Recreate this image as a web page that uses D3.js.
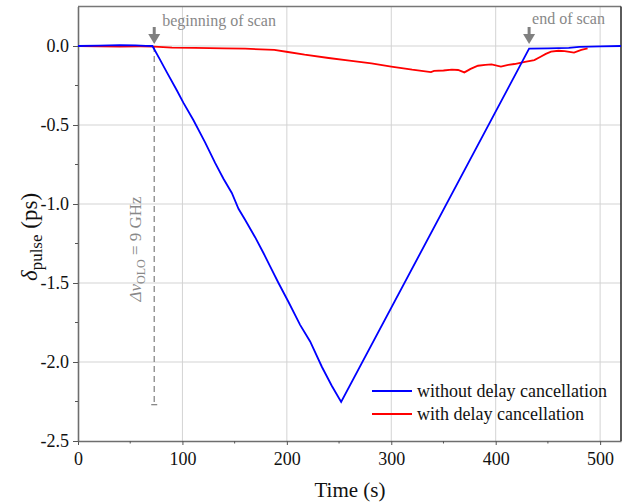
<!DOCTYPE html>
<html><head><meta charset="utf-8">
<script src="https://cdn.jsdelivr.net/npm/d3@7"></script>
<style>body{margin:0;background:#fff}svg{display:block}svg text{font-family:"Liberation Serif",serif !important}</style>
</head><body><svg id="c" width="631" height="502"></svg>
<script>
// ---- data ----
const blueT = [0,20,40,55,65,71.3,78,85,94.6,101,110.6,121.7,131.3,139.3,147.3,153.7,160,169.6,177.6,184,192,201.6,212.7,222.3,233.5,243,252,432,450,470,480,500,520];
const blueV = [0,0.002,0.006,0.004,0.001,0,-0.08,-0.165,-0.28,-0.36,-0.47,-0.61,-0.74,-0.84,-0.93,-1.03,-1.10,-1.21,-1.31,-1.395,-1.50,-1.62,-1.765,-1.87,-2.03,-2.15,-2.253,-0.017,-0.015,-0.012,-0.006,-0.002,0];
const redT = [0,20,40,60,73,90,112,140,160,188,201,217,240,260,281,300,320,338,341,350,358,364,370,376,383,390,396,405,412,418,428,437,443,448,453,460,466,475,482,488];
const redV = [0,-0.003,-0.004,-0.003,-0.004,-0.01,-0.012,-0.015,-0.017,-0.025,-0.038,-0.055,-0.076,-0.093,-0.11,-0.13,-0.15,-0.165,-0.158,-0.155,-0.150,-0.152,-0.167,-0.145,-0.125,-0.12,-0.116,-0.13,-0.12,-0.114,-0.10,-0.089,-0.068,-0.05,-0.036,-0.03,-0.032,-0.042,-0.025,-0.015];
const xTicks = [0,100,200,300,400,500];
const yTicks = [0,-0.5,-1.0,-1.5,-2.0,-2.5];
const yTickLabels = ["0.0","-0.5","-1.0","-1.5","-2.0","-2.5"];
const seriesNames = ["without delay cancellation","with delay cancellation"];
const seriesColors = ["#0000ff","#ff0000"];
const scanStart = 73, scanEnd = 432, markerBottom = -2.27;

// ---- chart ----
const FONT = '"Liberation Serif", serif';
const svg = d3.select("#c");
const x = d3.scaleLinear().domain([0,520]).range([78,621]);
const y = d3.scaleLinear().domain([-2.5,0.25]).range([441,6.5]);

// grid
svg.append("g").selectAll("line").data(xTicks.filter(d=>d>0)).join("line")
  .attr("x1",d=>x(d)).attr("x2",d=>x(d)).attr("y1",y(0.25)).attr("y2",y(-2.5))
  .attr("stroke","#d3d3d3").attr("stroke-width",1);
svg.append("g").selectAll("line").data(yTicks.filter(d=>d>-2.5)).join("line")
  .attr("x1",x(0)).attr("x2",x(520)).attr("y1",d=>y(d)).attr("y2",d=>y(d))
  .attr("stroke","#d3d3d3").attr("stroke-width",1);

// axes
const xAxis = svg.append("g").attr("transform",`translate(0,${y(-2.5)})`)
  .call(d3.axisBottom(x).tickValues(xTicks).tickFormat(d3.format("d")).tickSize(4).tickSizeOuter(0));
const yAxis = svg.append("g").attr("transform",`translate(${x(0)},0)`)
  .call(d3.axisLeft(y).tickValues(yTicks).tickFormat((d,i)=>yTickLabels[i]).tickSize(5).tickSizeOuter(0));
[xAxis,yAxis].forEach(a=>{
  a.attr("font-family",FONT).attr("font-size",18);
  a.select(".domain").attr("stroke","#6e6e6e").attr("stroke-width",1.6);
  a.selectAll(".tick line").attr("stroke","#555");
  a.selectAll(".tick text").attr("fill","#111").style("font-family",FONT).style("font-size","18px");
});
xAxis.selectAll(".tick text").attr("dy","0.95em");
yAxis.selectAll(".tick text").attr("x",-9);
// minor ticks
svg.append("g").selectAll("line").data(d3.range(50,520,100)).join("line")
  .attr("x1",d=>x(d)).attr("x2",d=>x(d)).attr("y1",y(-2.5)).attr("y2",y(-2.5)+2.5).attr("stroke","#555");
svg.append("g").selectAll("line").data(d3.range(-2.25,0.2,0.5)).join("line")
  .attr("x1",x(0)-3).attr("x2",x(0)).attr("y1",d=>y(d)).attr("y2",d=>y(d)).attr("stroke","#555");
// top & right spines
svg.append("line").attr("x1",x(0)).attr("x2",x(520)).attr("y1",y(0.25)).attr("y2",y(0.25)).attr("stroke","#777").attr("stroke-width",1.6);
svg.append("line").attr("x1",x(520)).attr("x2",x(520)).attr("y1",y(0.25)).attr("y2",y(-2.5)).attr("stroke","#333").attr("stroke-width",1.6);

// dashed marker
svg.append("line").attr("x1",x(scanStart)).attr("x2",x(scanStart)).attr("y1",y(0)).attr("y2",y(markerBottom))
  .attr("stroke","#888").attr("stroke-width",1.3).attr("stroke-dasharray","6,4");
svg.append("line").attr("x1",x(scanStart)-3).attr("x2",x(scanStart)+3).attr("y1",y(markerBottom)).attr("y2",y(markerBottom))
  .attr("stroke","#888").attr("stroke-width",1.3);

// lines
const line = d3.line().x(d=>x(d[0])).y(d=>y(d[1]));
svg.append("path").datum(d3.zip(redT,redV)).attr("d",line).attr("fill","none").attr("stroke",seriesColors[1]).attr("stroke-width",1.8);
svg.append("path").datum(d3.zip(blueT,blueV)).attr("d",line).attr("fill","none").attr("stroke",seriesColors[0]).attr("stroke-width",1.8);

// arrows
function arrow(t){
  const cx = x(t);
  svg.append("line").attr("x1",cx).attr("x2",cx).attr("y1",27).attr("y2",35).attr("stroke","#808080").attr("stroke-width",3);
  svg.append("path").attr("d",`M${cx-6},34L${cx+6},34L${cx},44Z`).attr("fill","#808080");
}
arrow(scanStart); arrow(scanEnd);
function txt(sel){ return sel.style("font-family",FONT); }
txt(svg.append("text")).attr("x",x(scanStart)+8).attr("y",26).attr("font-size",16).attr("fill","#888").text("beginning of scan");
txt(svg.append("text")).attr("x",x(scanEnd)+3).attr("y",24).attr("font-size",16).attr("fill","#888").text("end of scan");

// rotated annotation
const ann = txt(svg.append("text")).attr("transform",`translate(141,249) rotate(-90)`).attr("text-anchor","middle")
  .attr("font-size",17).attr("fill","#888");
ann.append("tspan").attr("font-style","italic").text("Δν");
ann.append("tspan").attr("font-size",12).attr("dy",4).text("OLO");
ann.append("tspan").attr("dy",-4).text(" = 9 GHz");

// axis titles
const yl = txt(svg.append("text")).attr("transform","translate(37,237) rotate(-90)").attr("text-anchor","middle").attr("font-size",23).attr("fill","#111");
yl.append("tspan").attr("font-style","italic").text("δ");
yl.append("tspan").attr("font-size",17).attr("dy",5).text("pulse");
yl.append("tspan").attr("dy",-5).text(" (ps)");
txt(svg.append("text")).attr("x",350).attr("y",497).attr("text-anchor","middle").attr("font-size",21).attr("fill","#111").text("Time (s)");

// legend
const lg = svg.append("g");
seriesNames.forEach((n,i)=>{
  const yy = 391 + i*23;
  lg.append("line").attr("x1",372).attr("x2",412).attr("y1",yy).attr("y2",yy).attr("stroke",seriesColors[i]).attr("stroke-width",2);
  txt(lg.append("text")).attr("x",417).attr("y",yy+6).attr("font-size",18).attr("fill","#111").text(n);
});
</script></body></html>
